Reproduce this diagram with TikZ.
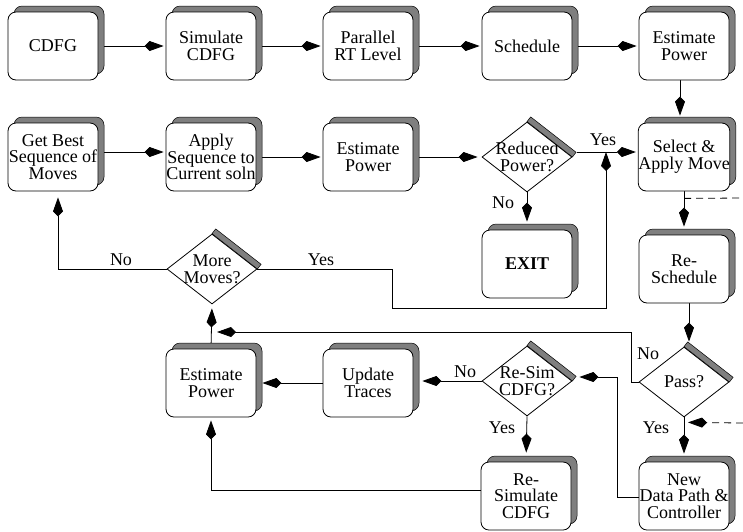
\documentclass[tikz,border=0pt]{standalone}
\usepackage{fontspec}
\setmainfont{Liberation Serif}
\usetikzlibrary{arrows.meta,shapes.geometric,shadows,backgrounds,calc}
\definecolor{shade}{HTML}{7F7F7F}

% thick grey band along the upper right edge of a decision diamond
\newcommand\diaband[1]{%
  \filldraw[fill=shade,draw=black,line width=0.5pt]
    (#1.north) -- (#1.east) -- ([shift={(3.7pt,4.7pt)}]#1.east)
    -- ([shift={(3.7pt,4.7pt)}]#1.north) -- cycle;}

\begin{document}
\begin{tikzpicture}[x=1pt,y=-1pt,
  txt/.style={font=\fontsize{18}{16.8}\selectfont,align=center,inner sep=0pt},
  box/.style={txt,draw=black,line width=0.8pt,fill=white,rounded corners=8pt,
    minimum width=90pt,minimum height=68pt,
    general shadow={shadow xshift=6pt,shadow yshift=6pt,fill=shade,
      draw=black,line width=0.5pt}},
  dia/.style={diamond,draw=black,line width=0.8pt,fill=white,inner sep=0pt,
    minimum width=90pt,minimum height=70pt},
  dtext/.style={txt},
  lbl/.style={txt},
  tip/.style={-{Kite[length=19pt,width=10pt,inset=5pt]}},
  arr/.style={line width=0.8pt,tip},
  dashline/.style={line width=0.8pt,dash pattern=on 7pt off 5pt}]

\useasboundingbox (0,0) rectangle (743,531);

% top row
\node[box] (cdfg)  at (53,46)  {CDFG};
\node[box] (sim)   at (211,46) {Simulate\\CDFG};
\node[box] (prt)   at (368,46) {Parallel\\RT Level};
\node[box] (sched) at (527,46) {Schedule};
\node[box] (ep1)   at (684,46) {Estimate\\Power};

% second row
\node[box] (best)   at (53,157)  {Get Best\\Sequence of\\Moves};
\node[box] (apply)  at (211,157) {Apply\\Sequence to\\Current soln};
\node[box] (ep2)    at (368,157) {Estimate\\Power};
\node[dia,label={[dtext]center:{Reduced\\Power?}}] (rp) at (527,157) {};
\diaband{rp}
\node[box] (select) at (684,157) {Select \&\\Apply Move};

% middle
\node[box] (exit) at (527,264) {\textbf{EXIT}};
\node[box] (resched) at (684,269) {Re-\\Schedule};
\node[dia,label={[dtext]center:{More\\Moves?}}] (more) at (212,269) {};
\diaband{more}

% fourth row
\node[box] (ep3) at (211,383) {Estimate\\Power};
\node[box] (upd) at (368,383) {Update\\Traces};
\node[dia,label={[dtext]center:{Re-Sim\\CDFG?}}] (resim) at (527,381) {};
\diaband{resim}
\node[dia,label={[dtext]center:{Pass?}}] (pass) at (684,382) {};
\diaband{pass}

% bottom row
\node[box] (resimu) at (526,496) {Re-\\Simulate\\CDFG};
\node[box] (newdp)  at (684,496) {New\\Data Path \&\\Controller};

% branch labels
\node[lbl] (yesrp)   at (603,140) {Yes};
\node[lbl] (norp)    at (503,203) {No};
\node[lbl] (nomore)  at (121,260) {No};
\node[lbl] (yesmore) at (321,260) {Yes};
\node[lbl] (nopass)  at (648,354) {No};
\node[lbl] (yespass) at (656,428) {Yes};
\node[lbl] (noresim) at (465,372) {No};
\node[lbl] (yesresim) at (502,428) {Yes};

% loose ends and junctions
\coordinate (dashA) at (743,198);
\coordinate (dashB) at (743,423);
\coordinate (joinA) at (211,332);
\coordinate (joinB) at (606,152);

\begin{pgfonlayer}{background}
  % top row flow
  \draw[arr,shorten >=2pt] (cdfg.east) -- (sim.west);
  \draw[arr,shorten >=2pt] (sim.east) -- (prt.west);
  \draw[arr,shorten >=2pt] (prt.east) -- (sched.west);
  \draw[arr,shorten >=2pt] (sched.east) -- (ep1.west);
  \draw[arr,shorten >=7pt] ([xshift=-4pt]ep1.south) -- ([xshift=-4pt]select.north);

  % second row flow
  \draw[arr,shorten >=2pt] ([yshift=5pt]best.east) -- ([yshift=5pt]apply.west);
  \draw[arr,shorten >=2pt] (apply.east) -- (ep2.west);
  \draw[arr,shorten >=4pt] (ep2.east) -- (rp.west);
  \draw[arr,shorten >=2pt] ([shift={(5pt,5pt)}]rp.east) -- ([yshift=5pt]select.west);
  \draw[arr,shorten >=8pt] (rp.south) -- (exit.north);

  % right column
  \draw[arr,shorten >=8pt] (select.south) -- (resched.north);
  \draw[dashline] ($(select.south)+(0,7)$) -- (dashA);
  \draw[arr,shorten >=5pt] ([xshift=5pt]resched.south) -- ([xshift=5pt]pass.north);
  \draw[arr,shorten >=8pt] (pass.south) -- (newdp.north);
  \draw[dashline,tip] (dashB) -- ($(pass.south)+(4,5)$);

  % failed pass: back to the move loop
  \draw[arr,shorten >=6pt] (pass.west) -- ++(-7,0) |- (joinA);

  % new data path: re-simulation decision
  \draw[arr,shorten >=1pt] ([yshift=-1pt]newdp.west) -- ++(-21,0) |- ([shift={(6pt,4pt)}]resim.east);
  \draw[arr,shorten >=9pt] (resim.west) -- (resim.west -| upd.east);
  \draw[arr,shorten >=9pt] (resim.south) -- (resimu.north);
  \draw[arr,shorten >=3pt] ([yshift=6pt]resimu.west) -| (ep3.south);
  \draw[arr,shorten >=6pt] (upd.west) -- (ep3.east);

  % estimate and loop decision
  \draw[arr,shorten >=4pt] (ep3.north) -- (more.south);
  \draw[arr,shorten >=6pt] (more.west) -| ([xshift=5pt]best.south);
  \draw[arr,shorten >=0pt] (more.east) -| (392,308) -| (joinB);
\end{pgfonlayer}
\end{tikzpicture}
\end{document}
